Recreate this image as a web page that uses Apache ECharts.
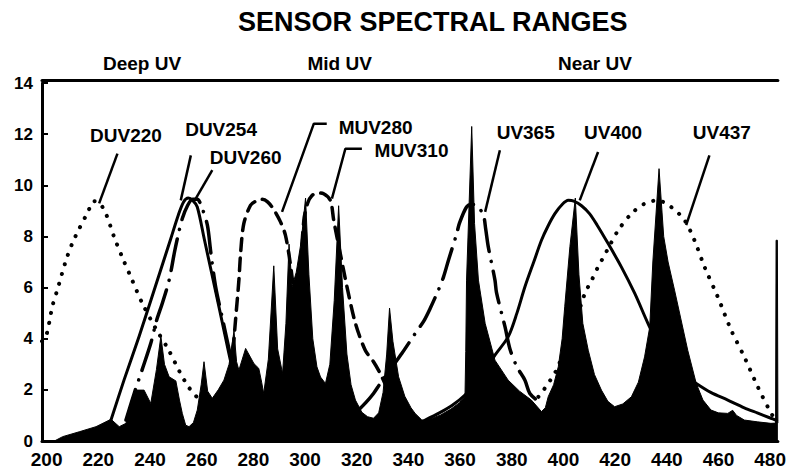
<!DOCTYPE html>
<html><head><meta charset="utf-8">
<script src="https://cdn.jsdelivr.net/npm/echarts@6/dist/echarts.min.js"></script>
<style>html,body{margin:0;padding:0;background:#fff}#c{width:789px;height:472px}</style>
</head><body><div id="c"></div>
<script>
// ---- data (wavelength nm, relative response) ----
const xTicks = [200,220,240,260,280,300,320,340,360,380,400,420,440,460,480];
const yTicks = [0,2,4,6,8,10,12,14];

const spectrum = [[198.2,0],[203,0],[206.2,0.17],[212.6,0.36],[219.1,0.56],[224.9,0.85],[228.1,0.56],[230.7,0.69],[233.2,1.73],[234.5,1.99],[237.7,1.99],[240.3,1.47],[242.5,2.8],[244.2,4.1],[245.6,3.0],[247.4,2.51],[250,2.35],[251.4,1.6],[252.5,1.08],[253.8,0.62],[255.1,0.56],[256.8,0.72],[258.3,1.21],[259.8,2.2],[260.9,3.1],[262.3,1.95],[264.1,1.67],[266.4,2.0],[268.6,2.38],[270.6,3.0],[272.5,4.3],[273.5,3.1],[274.4,2.77],[277,3.62],[280.2,3.03],[282.1,2.84],[283.2,2.3],[284,1.86],[285.8,3.2],[287.9,6.85],[289.4,3.6],[291.3,2.64],[292.6,4.6],[293.8,7.7],[295,6.03],[296.6,6.6],[298.5,7.8],[300.2,9.5],[301.5,6.5],[303,4.0],[304.6,2.9],[306,2.5],[307.9,2.25],[309.6,3.0],[311.3,5.5],[313,9.2],[314.5,6.0],[316.2,3.4],[317.8,2.2],[319.5,1.6],[322,1.12],[324.2,0.95],[326.5,0.89],[328.5,1.1],[330.2,1.9],[331.6,3.4],[332.7,5.2],[334,3.9],[336.2,2.51],[338.6,1.75],[341,1.3],[342.6,1.08],[345.2,0.82],[348.5,0.86],[352.5,1.02],[356.5,1.25],[359.8,1.5],[361.9,1.75],[362.2,3.5],[362.5,6.29],[364.5,12.3],[365.6,8.5],[367.1,6.29],[369.7,4.6],[373.5,3.16],[378.6,2.38],[383,1.95],[387.6,1.6],[391.5,1.15],[393,1.3],[394.1,1.73],[396.2,2.2],[398,2.9],[399.5,4.0],[400.5,5.25],[402.5,7.6],[404.6,9.5],[406,6.5],[407.5,4.6],[409.6,3.55],[412,2.6],[414.7,1.99],[417.2,1.55],[419.8,1.34],[423,1.45],[426.3,1.73],[429,2.3],[431.4,3.29],[433.4,4.46],[434.6,7.0],[437,10.65],[438.8,8.0],[440.5,7.0],[443,5.9],[448.1,3.55],[451.4,2.25],[454,1.6],[457.1,1.21],[460,1.1],[463.6,1.08],[465.5,1.2],[467,1.0],[470,0.82],[475,0.75],[480.3,0.69],[482.1,0.7],[482.3,7.85],[482.8,7.85],[483,0.7]];

const duv220 = [[198.2,3.9],[199.8,4.1],[202.3,5.3],[204.1,5.9],[207.5,7.07],[210,7.75],[212.6,8.3],[215.7,8.9],[218.4,9.38],[220.5,9.3],[222.9,8.9],[226.1,7.98],[229.2,7.2],[233.1,6.29],[237,5.39],[242.2,4.4],[247,3.6],[251.5,2.7],[255,2.1],[258.3,1.7]];
const duv254 = [[224.9,0.82],[230,2.4],[235.8,4.1],[240,5.4],[244,6.65],[248,7.9],[251,8.85],[253,9.35],[254.8,9.5],[256.6,9.4],[258.3,9.15],[261,7.9],[264,6.5],[267,5.1],[270.5,3.43],[273,2.3],[275,1.4]];
const duv260 = [[230.7,0.82],[234,1.9],[237,2.8],[240.3,3.82],[242.5,4.7],[244.8,5.4],[247.4,6.29],[249.5,7.4],[251,8.1],[252.5,8.7],[254.5,9.2],[256.5,9.45],[258.3,9.45],[260,9.15],[262.2,8.44],[263.5,7.4],[265.4,6.03],[268,4.8],[271,3.4],[274,2.1],[276,1.3]];
const muv280 = [[270.5,2.0],[272,3.4],[273.1,4.73],[274.4,6.29],[275.1,7.4],[276.3,8.5],[278.9,9.22],[281,9.38],[283.4,9.45],[285.5,9.35],[287.9,9.05],[290.5,8.57],[292.4,8.05],[294.2,7.0],[296.3,5.3],[298,3.8],[299.5,2.5]];
const muv310 = [[296,3.0],[297.5,5.5],[299.5,8.6],[301,9.3],[302.7,9.6],[305,9.7],[307.2,9.67],[309.8,9.41],[311.1,8.63],[313.5,7.4],[316.5,5.9],[319.5,4.6],[323.3,3.55],[326.5,3.1],[329.1,2.64],[332,2.0],[335,1.3]];
const uv365 = [[320.7,1.21],[323.5,1.5],[326.5,1.86],[329.1,2.25],[333,2.8],[337.5,3.43],[342.6,4.2],[346,4.7],[348.5,5.2],[351.6,5.9],[353.6,6.42],[355.5,7.07],[358.7,8.11],[359.7,8.5],[362.5,9.15],[364.5,9.25],[366.4,9.22],[369,8.83],[369.9,8.3],[370.9,7.6],[373.5,6.29],[374.1,5.8],[377.4,4.46],[379.3,3.6],[382,2.9],[385.1,2.38],[387,1.86],[390.9,1.5]];
const uv400 = [[346.5,0.82],[352,1.1],[357,1.4],[361.9,1.8],[366,2.3],[370,2.8],[373.5,3.36],[378.6,4.07],[382,5.0],[385.1,6.03],[388.5,7.0],[391.5,7.85],[394,8.4],[396.7,8.89],[399.5,9.25],[401.9,9.41],[404,9.38],[407,9.2],[410,8.9],[413,8.45],[417.3,7.72],[422.4,6.81],[427.6,5.77],[432.7,4.6],[437,3.7],[442,3.0],[446.5,2.6],[451.4,2.25],[457,1.9],[463.6,1.6],[470,1.3],[475,1.1],[480.3,0.89],[482.5,0.8]];
const uv437 = [[390.3,1.73],[392,1.95],[394.1,2.25],[396,2.55],[398,2.9],[399.2,3.29],[402,3.9],[404.5,4.6],[408.3,5.77],[411,6.3],[413.4,6.81],[415,7.1],[417.3,7.53],[421.2,8.24],[426.3,8.89],[431.4,9.28],[436.5,9.41],[441.7,9.15],[446.9,8.63],[450.7,7.85],[454.6,6.81],[459.7,5.64],[464.9,4.34],[470,3.29],[475.2,2.12],[479.7,1.21],[481,0.98]];

const curveNames = ['DUV220','DUV254','DUV260','MUV280','MUV310','UV365','UV400','UV437'];
const labelX = [230.7, 267.5, 277.0, 327.3, 341.2, 385.4, 419.2, 461.3];
const labelY = [11.95, 12.2, 11.1, 12.27, 11.37, 12.05, 12.05, 12.05];
const leaders = [
  [[227.4,11.24],[220.3,9.29]],
  [[255.8,11.17],[251.9,9.41]],
  [[264.1,10.59],[257.7,9.48]],
  [[308.4,12.41],[303.4,12.41],[291.1,8.96]],
  [[322,11.43],[315.6,11.43],[310.4,9.48]],
  [[375.4,11.37],[369.7,8.96]],
  [[413.4,11.3],[406.3,9.41]],
  [[456.5,11.17],[447.5,8.44]]
];
const regionNames = ['Deep UV','Mid UV','Near UV'];
const regionX = [236.9, 313.4, 412.2];

// ---- styles ----
const FONT = '"Liberation Sans", Arial, Helvetica, sans-serif';
const DOT = [0.1, 10], DASH = [12, 8], DASHDOT = [32, 10, 0.1, 10];
const curves = [
  {data: duv220, type: DOT, w: 4},
  {data: duv254, type: 'solid', w: 3},
  {data: duv260, type: DASHDOT, w: 3.5},
  {data: muv280, type: DASH, w: 3.5},
  {data: muv310, type: DASH, w: 3.5},
  {data: uv365, type: DASHDOT, w: 3.5},
  {data: uv400, type: 'solid', w: 3},
  {data: uv437, type: DOT, w: 4}
];

const series = [];
series.push({
  type: 'line', name: 'spectrum', data: spectrum, symbol: 'none', smooth: false,
  lineStyle: {color: '#000', width: 1}, areaStyle: {color: '#000', opacity: 1}, z: 2, silent: true
});
curves.forEach((c, i) => series.push({
  type: 'line', name: curveNames[i], data: c.data, symbol: 'none', smooth: 0.3,
  lineStyle: {color: '#000', width: c.w, type: c.type, cap: 'round', join: 'round'}, z: 3, silent: true
}));
leaders.forEach((l, i) => series.push({
  type: 'line', name: curveNames[i] + ' leader', data: l, symbol: 'none',
  lineStyle: {color: '#000', width: 2.5}, z: 4, silent: true
}));
const labelText = {color: '#000', fontSize: 19, fontWeight: 'bold', fontFamily: FONT, opacity: 1, textBorderWidth: 0};
series.push({
  type: 'scatter', name: 'labels', symbolSize: 0.5, itemStyle: {color: '#fff', opacity: 1},
  data: curveNames.map((n, i) => ({name: n, value: [labelX[i], labelY[i]]})),
  label: Object.assign({show: true, position: 'inside', formatter: '{b}'}, labelText),
  z: 5, silent: true, clip: false
});
series.push({
  type: 'scatter', name: 'regions', symbolSize: 0.5, itemStyle: {color: '#fff', opacity: 1},
  data: regionNames.map((n, i) => ({name: n, value: [regionX[i], 14]})),
  label: Object.assign({show: true, position: 'top', distance: 10, formatter: '{b}'}, labelText),
  z: 5, silent: true, clip: false
});

const chart = echarts.init(document.getElementById('c'), null, {renderer: 'svg'});
chart.setOption({
  animation: false,
  backgroundColor: '#fff',
  title: {
    text: 'SENSOR SPECTRAL RANGES', left: 238, top: 8, padding: 0,
    textStyle: {fontSize: 27, fontWeight: 'bold', color: '#000', fontFamily: FONT}
  },
  grid: {left: 42, right: 9, top: 83, bottom: 31, containLabel: false},
  xAxis: [
    {type: 'value', min: 198.2, max: 483, position: 'bottom',
     axisLine: {show: true, onZero: false, lineStyle: {color: '#000', width: 3}},
     axisTick: {show: false}, splitLine: {show: false},
     axisLabel: {customValues: xTicks, margin: 9, fontSize: 19, fontWeight: 'bold', color: '#000', fontFamily: FONT}},
    {type: 'value', min: 198.2, max: 483, position: 'top', offset: 3,
     axisLine: {show: true, onZero: false, lineStyle: {color: '#000', width: 3}},
     axisTick: {show: false}, axisLabel: {show: false}, splitLine: {show: false}}
  ],
  yAxis: {
    type: 'value', min: 0, max: 14, interval: 2,
    axisLine: {show: true, lineStyle: {color: '#000', width: 3}},
    axisTick: {show: true, inside: true, length: 6, lineStyle: {color: '#000', width: 2}},
    splitLine: {show: false},
    axisLabel: {customValues: yTicks, margin: 9, fontSize: 17, fontWeight: 'bold', color: '#000', fontFamily: FONT}
  },
  series: series
});
</script></body></html>
